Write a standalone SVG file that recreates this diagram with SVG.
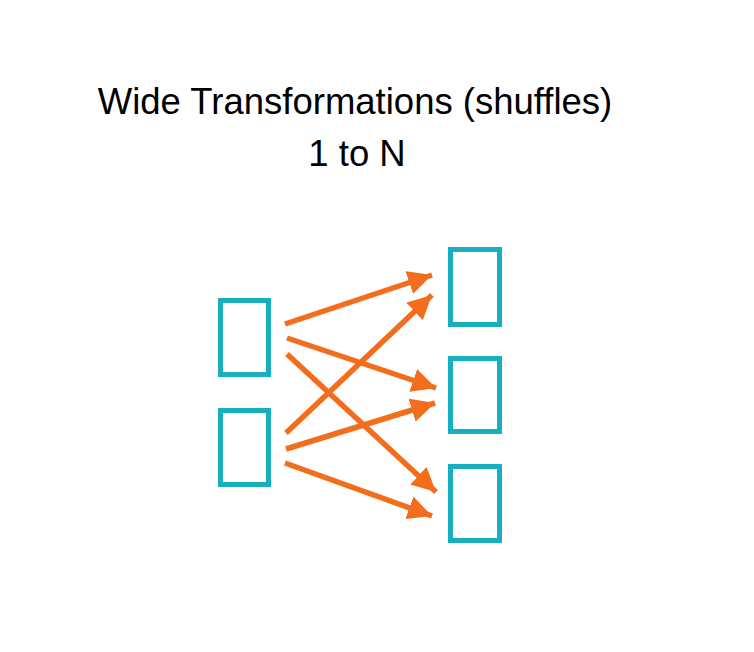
<svg xmlns="http://www.w3.org/2000/svg" width="754" height="652" viewBox="0 0 754 652">
<style>
.t{font-family:"Liberation Sans",Arial,sans-serif;font-size:36.5px;fill:#000;text-anchor:middle}
.box{fill:none;stroke:#17AEC0;stroke-width:5}
.e{stroke:#F26E1C;stroke-width:5.5;fill:none;marker-end:url(#ah)}
</style>
<defs>
<marker id="ah" viewBox="0 0 24 24" refX="24" refY="12" markerWidth="24" markerHeight="24" markerUnits="userSpaceOnUse" orient="auto">
<path d="M0,0 L24,12 L0,24 z" fill="#F26E1C"/>
</marker>
</defs>
<rect width="754" height="652" fill="#fff"/>
<g id="title">
<text class="t" x="355" y="114">Wide Transformations (shuffles)</text>
<text class="t" x="357" y="166">1 to N</text>
</g>
<g id="src1"><rect class="box" x="220.5" y="300.5" width="48" height="74"/></g>
<g id="src2"><rect class="box" x="220.5" y="410.5" width="48" height="74"/></g>
<g id="dst1"><rect class="box" x="450.5" y="249.5" width="49" height="75"/></g>
<g id="dst2"><rect class="box" x="450.5" y="358.5" width="49" height="73"/></g>
<g id="dst3"><rect class="box" x="450.5" y="466.5" width="49" height="74"/></g>
<g id="connectors">
<line class="e" x1="285" y1="324" x2="432" y2="275"/>
<line class="e" x1="287" y1="338" x2="436" y2="388"/>
<line class="e" x1="287" y1="354" x2="436" y2="492"/>
<line class="e" x1="286" y1="433" x2="432" y2="295"/>
<line class="e" x1="286" y1="449" x2="435" y2="403"/>
<line class="e" x1="285" y1="463" x2="432" y2="516"/>
</g>
</svg>
